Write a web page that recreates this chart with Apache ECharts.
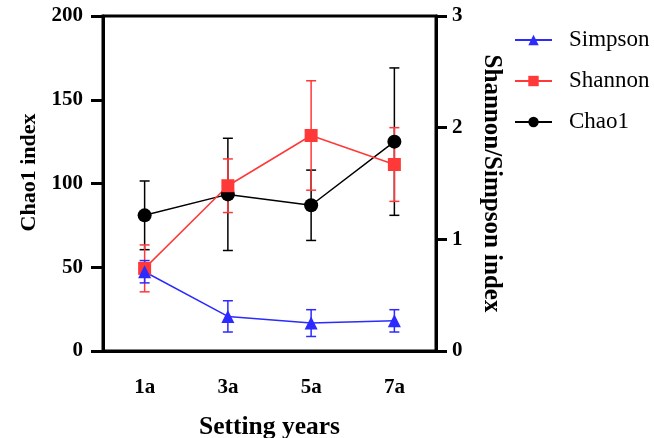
<!DOCTYPE html>
<html><head><meta charset="utf-8">
<script src="https://cdn.jsdelivr.net/npm/echarts@6/dist/echarts.min.js"></script>
<style>html,body{margin:0;padding:0;background:#fff}#c{width:654px;height:438px}</style>
</head><body><div id="c"></div>
<script>
var categories = ['1a', '3a', '5a', '7a'];
var chao1 = [81, 93.5, 87, 125];
var chao1Sd = [20.5, 33.5, 21, 44];
var shannon = [0.74, 1.48, 1.93, 1.67];
var shannonSd = [0.21, 0.24, 0.49, 0.33];
var simpson = [0.71, 0.31, 0.25, 0.27];
var simpsonSd = [0.1, 0.14, 0.12, 0.1];
var leftTicks = [0, 50, 100, 150, 200];
var rightTicks = [0, 1, 2, 3];

var FONT = '"Liberation Serif", "Times New Roman", serif';
var BLUE = '#2b2bff', RED = '#ff3838', BLACK = '#000000';

function errData(m, s) { return m.map(function (v, i) { return [i, v - s[i], v + s[i]]; }); }
function errSeries(name, m, s, color, axis) {
  return {
    type: 'custom', name: name + '_err', yAxisIndex: axis, silent: true, z: 1,
    data: errData(m, s),
    renderItem: function (params, api) {
      var lo = api.coord([api.value(0), api.value(1)]);
      var hi = api.coord([api.value(0), api.value(2)]);
      var w = 5;
      var st = { stroke: color, lineWidth: 1.5 };
      return { type: 'group', children: [
        { type: 'line', shape: { x1: lo[0], y1: lo[1], x2: hi[0], y2: hi[1] }, style: st },
        { type: 'line', shape: { x1: lo[0] - w, y1: lo[1], x2: lo[0] + w, y2: lo[1] }, style: st },
        { type: 'line', shape: { x1: hi[0] - w, y1: hi[1], x2: hi[0] + w, y2: hi[1] }, style: st }
      ]};
    }
  };
}
function lineSeries(name, data, color, symbol, size, axis) {
  return {
    type: 'line', name: name, data: data, yAxisIndex: axis, z: 3,
    symbol: symbol, symbolSize: size, showAllSymbol: true,
    lineStyle: { color: color, width: 1.5 },
    itemStyle: { color: color, opacity: 1 }
  };
}

var chart = echarts.init(document.getElementById('c'), null, { renderer: 'canvas' });
chart.setOption({
  animation: false,
  textStyle: { fontFamily: FONT },
  grid: { left: 103, right: 218, top: 16, bottom: 87, show: true, borderColor: '#000', borderWidth: 3,
    containLabel: false, outerBoundsMode: 'none' },
  legend: {
    orient: 'vertical', left: 509, top: 23,
    itemWidth: 37, itemHeight: 13, itemGap: 17,
    data: ['Simpson', 'Shannon', 'Chao1'],
    textStyle: { fontFamily: FONT, fontSize: 23, color: '#000', lineHeight: 24, padding: [0, 0, 0, 12] }
  },
  xAxis: {
    type: 'category', data: categories, boundaryGap: true,
    name: 'Setting years', nameLocation: 'middle', nameGap: 63,
    nameTextStyle: { fontFamily: FONT, fontSize: 25.5, fontWeight: 'bold', color: '#000' },
    axisLine: { lineStyle: { color: '#000', width: 3 } },
    axisTick: { alignWithLabel: true, length: 12, lineStyle: { width: 3, color: '#000' } },
    axisLabel: { margin: 26, fontFamily: FONT, fontSize: 21, fontWeight: 'bold', color: '#000' },
    splitLine: { show: false }
  },
  yAxis: [{
    type: 'value', min: 0, max: 200, interval: 50, position: 'left',
    name: 'Chao1 index', nameLocation: 'middle', nameGap: 62,
    nameTextStyle: { fontFamily: FONT, fontSize: 22, fontWeight: 'bold', color: '#000', padding: [0, 0, 0, 22] },
    axisLine: { show: true, lineStyle: { color: '#000', width: 3 } },
    axisTick: { show: true, length: 12, lineStyle: { width: 3, color: '#000' } },
    axisLabel: { margin: 20, fontFamily: FONT, fontSize: 21, fontWeight: 'bold', color: '#000',
      formatter: function (v) { return leftTicks.indexOf(v) >= 0 ? String(v) : ''; } },
    splitLine: { show: false }
  }, {
    type: 'value', min: 0, max: 3, interval: 1, position: 'right',
    name: 'Shannon/Simpson index', nameLocation: 'middle', nameGap: 43, nameRotate: -90,
    nameTextStyle: { fontFamily: FONT, fontSize: 25, fontWeight: 'bold', color: '#000' },
    axisLine: { show: true, lineStyle: { color: '#000', width: 3 } },
    axisTick: { show: true, length: 11, lineStyle: { width: 3, color: '#000' } },
    axisLabel: { margin: 16, fontFamily: FONT, fontSize: 21, fontWeight: 'bold', color: '#000',
      formatter: function (v) { return rightTicks.indexOf(v) >= 0 ? String(v) : ''; } },
    splitLine: { show: false }
  }],
  series: [
    errSeries('Chao1', chao1, chao1Sd, BLACK, 0),
    errSeries('Shannon', shannon, shannonSd, RED, 1),
    errSeries('Simpson', simpson, simpsonSd, BLUE, 1),
    lineSeries('Chao1', chao1, BLACK, 'circle', 14, 0),
    lineSeries('Shannon', shannon, RED, 'rect', 13, 1),
    lineSeries('Simpson', simpson, BLUE, 'triangle', 13, 1)
  ]
});
</script></body></html>
